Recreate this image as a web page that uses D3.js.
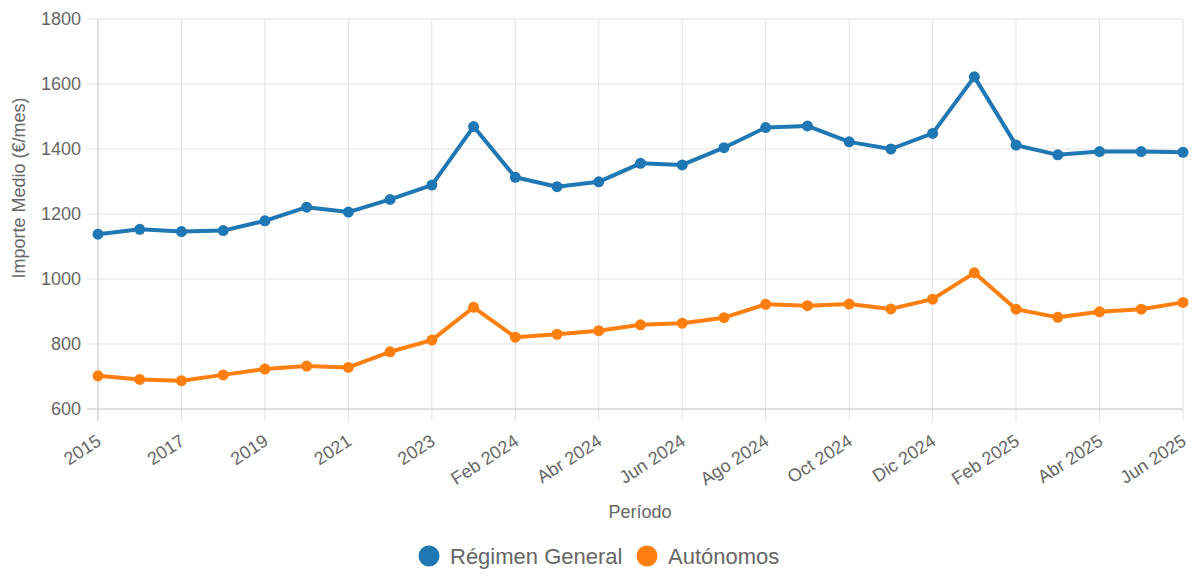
<!DOCTYPE html>
<html><head><meta charset="utf-8">
<script src="https://cdn.jsdelivr.net/npm/d3@7"></script>
<style>
html,body{margin:0;padding:0;background:#fff;}
svg{display:block;font-family:"Liberation Sans",Arial,Helvetica,sans-serif;}
</style></head>
<body><svg id="c" width="1199" height="581"></svg>
<script>
const categories = ["2015","2016","2017","2018","2019","2020","2021","2022","2023",
  "Ene 2024","Feb 2024","Mar 2024","Abr 2024","May 2024","Jun 2024","Jul 2024","Ago 2024",
  "Sep 2024","Oct 2024","Nov 2024","Dic 2024","Ene 2025","Feb 2025","Mar 2025","Abr 2025","May 2025","Jun 2025"];
const regimenGeneral = [1138,1153,1146,1149,1179,1221,1206,1245,1289,1469,1313,1284,1299,1356,1351,1404,1466,1471,1422,1400,1448,1622,1412,1382,1392,1392,1390];
const autonomos = [702,691,687,705,723,732,728,776,812,913,821,830,841,859,864,881,922,918,923,908,938,1019,907,882,899,907,928];
const yTicks = [600,800,1000,1200,1400,1600,1800];
const seriesNames = ["Régimen General","Autónomos"];
const colors = ["#1f77b4","#ff7f0e"];

(function(){
const svg = d3.select("#c");
const pL = 98, pR = 1183, pT = 19, pB = 409;
const x = d3.scalePoint().domain(categories).range([pL, pR]);
const y = d3.scaleLinear().domain([600,1800]).range([pB, pT]);
const shown = categories.filter((d,i)=>i%2===0);
const txt = "#666";

const g = svg.append("g");
g.selectAll("line.hg").data(yTicks).enter().append("line")
  .attr("x1", pL-11).attr("x2", pR).attr("y1", d=>y(d)).attr("y2", d=>y(d))
  .attr("stroke", "#e2e2e2").attr("stroke-width", 1);
g.selectAll("line.vg").data(shown).enter().append("line")
  .attr("x1", d=>x(d)).attr("x2", d=>x(d)).attr("y1", pT).attr("y2", pB+12)
  .attr("stroke", "#e2e2e2").attr("stroke-width", 1);
g.append("line").attr("x1", pL).attr("x2", pL).attr("y1", pT).attr("y2", pB+12)
  .attr("stroke", "#cccccc").attr("stroke-width", 1);
g.append("line").attr("x1", pL-11).attr("x2", pR).attr("y1", pB).attr("y2", pB)
  .attr("stroke", "#cccccc").attr("stroke-width", 1);

const yAxis = d3.axisLeft(y).tickValues(yTicks).tickSize(0).tickPadding(17).tickFormat(d3.format("d"));
const ya = svg.append("g").attr("transform", `translate(${pL},0)`).call(yAxis);
ya.select(".domain").remove();
ya.selectAll("text").attr("fill",txt).attr("font-size","18px").attr("font-family","Liberation Sans, Arial, sans-serif");

const xAxis = d3.axisBottom(x).tickValues(shown).tickSize(0).tickPadding(0);
const xa = svg.append("g").attr("transform", `translate(0,${pB})`).call(xAxis);
xa.select(".domain").remove();
xa.selectAll("text").attr("fill",txt).attr("font-size","18px").attr("font-family","Liberation Sans, Arial, sans-serif")
  .attr("text-anchor","end").attr("dy","0").attr("y",0)
  .attr("transform","translate(4,35) rotate(-33)");

svg.append("text").attr("transform",`translate(25,188) rotate(-90)`)
  .attr("text-anchor","middle").attr("fill",txt).attr("font-size","18px").text("Importe Medio (€/mes)");
svg.append("text").attr("x", 640).attr("y", 518).attr("text-anchor","middle")
  .attr("fill",txt).attr("font-size","18px").text("Período");

const series = [regimenGeneral, autonomos];
const line = d3.line().x((d,i)=>x(categories[i])).y(d=>y(d));
series.forEach((s,k)=>{
  svg.append("path").datum(s).attr("d", line).attr("fill","none")
    .attr("stroke", colors[k]).attr("stroke-width", 4).attr("stroke-linejoin","round");
  svg.append("g").selectAll("circle").data(s).enter().append("circle")
    .attr("cx",(d,i)=>x(categories[i])).attr("cy", d=>y(d)).attr("r", 5.5).attr("fill", colors[k]);
});

const lg = svg.append("g");
const legendX = [429, 647];
seriesNames.forEach((n,k)=>{
  lg.append("circle").attr("cx", legendX[k]).attr("cy", 556).attr("r", 10.5).attr("fill", colors[k]);
  lg.append("text").attr("x", legendX[k]+21).attr("y", 564).attr("fill",txt)
    .attr("font-size","22px").text(n);
});
})();
</script></body></html>
